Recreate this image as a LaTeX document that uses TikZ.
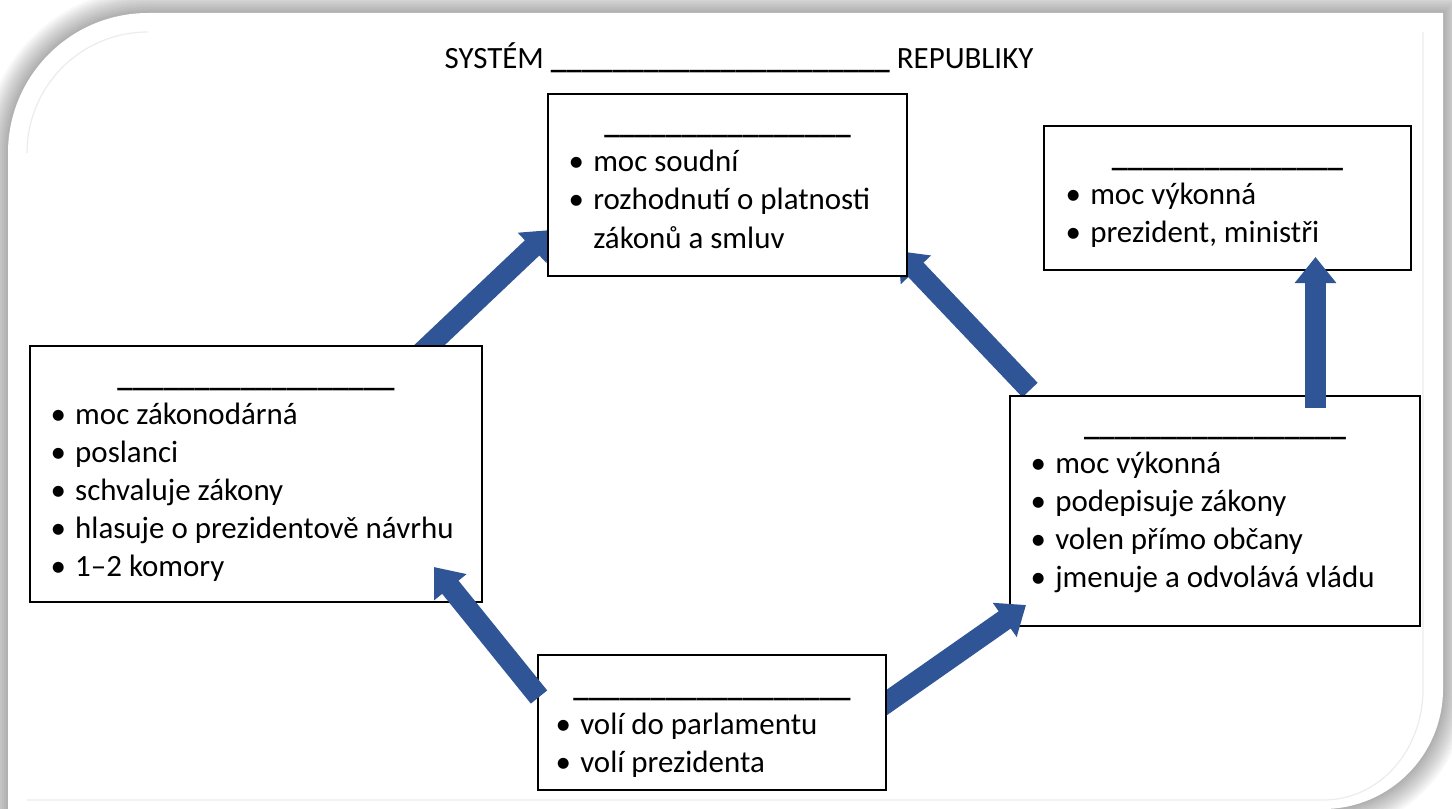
\documentclass[tikz,border=0pt]{standalone}
\usepackage{fontspec}
\setmainfont{Carlito}
\usetikzlibrary{arrows.meta}
\definecolor{arrowblue}{RGB}{47,85,151}
\definecolor{faint}{RGB}{236,236,236}
\newlength\px
\setlength\px{0.75pt}
\newcommand\bul{\llap{\makebox[34\px][c]{•}}}
\newcommand\blank[1]{{\bfseries\foreach \k in {1,...,#1}{\_}}}
\begin{document}
\begin{tikzpicture}[x=0.75pt,y=-0.75pt,
  box/.style={draw=black,line width=1.1pt,fill=white,inner sep=0pt,outer sep=0pt},
  txt/.style={anchor=base west,inner sep=0pt,font=\fontsize{23.2pt}{28.5pt}\selectfont},
  hdr/.style={anchor=base,inner sep=0pt,font=\fontsize{23.2pt}{28.5pt}\selectfont},
  bigarrow/.style={draw=arrowblue,line width=15.75pt,line cap=butt,
    -{Triangle[length=19.5pt,width=30pt]}},
  glow/.style={draw=black,draw opacity=0.028}]
\useasboundingbox (0,0) rectangle (1452,809);
\clip (0,0) rectangle (1452,809);
% frame with soft shadow
\def\framepath{(8,809) -- (8,400) [rounded corners=105pt] -- (8,13) -- (600,13) [sharp corners] -- (1443,13) -- (1443,400) [rounded corners=90pt] -- (1443,809) -- (800,809) [sharp corners] -- cycle}
\fill[white] (0,0) rectangle (1452,809);
\foreach \w in {4,8,...,48} {
  \draw[glow,line width=\w*0.75pt] \framepath;
}
\fill[white] \framepath;
\draw[faint,line width=0.9pt] (27,153) .. controls (27,86) and (81,32) .. (148,32);
\draw[faint,line width=0.9pt] (1423,32) -- (1423,689) .. controls (1423,750) and (1380,800) .. (1323,800) -- (27,800);
% title
\node[hdr] (title) at (739,69) {SYSTÉM \blank{22} REPUBLIKY};
% arrow end points
\coordinate (a1s) at (418,356);
\coordinate (a1e) at (551,230);
\coordinate (a2s) at (1030,390);
\coordinate (a2e) at (898,251);
\coordinate (a3s) at (1315.5,408);
\coordinate (a3e) at (1315.5,257);
\coordinate (a4s) at (539,697);
\coordinate (a4e) at (434,567);
\coordinate (a5s) at (876,710);
\coordinate (a5e) at (1026,605);
% arrows under the boxes
\draw[bigarrow] (a1s) -- (a1e);
\draw[bigarrow] (a2s) -- (a2e);
% top box
\node[box,minimum width=359*0.75pt,minimum height=182*0.75pt] (soud) at (727.5,185) {};
\node[hdr] (soudh) at (727.5,134) {\blank{16}};
\node[txt] (soud1) at (593,172) {\bul moc soudní};
\node[txt] (soud2) at (593,210) {\bul rozhodnutí o platnosti};
\node[txt] (soud3) at (593,248) {zákonů a smluv};
% top right box
\node[box,minimum width=367*0.75pt,minimum height=144*0.75pt] (vlada) at (1227.5,198) {};
\node[hdr] (vladah) at (1227.5,167) {\blank{15}};
\node[txt] (vlada1) at (1090,205) {\bul moc výkonná};
\node[txt] (vlada2) at (1090,243) {\bul prezident, ministři};
% left box
\node[box,minimum width=452*0.75pt,minimum height=256*0.75pt] (parl) at (256,474) {};
\node[hdr] (parlh) at (256,386) {\blank{18}};
\node[txt] (parl1) at (75,424) {\bul moc zákonodárná};
\node[txt] (parl2) at (75,462) {\bul poslanci};
\node[txt] (parl3) at (75,500) {\bul schvaluje zákony};
\node[txt] (parl4) at (75,538) {\bul hlasuje o prezidentově návrhu};
\node[txt] (parl5) at (75,576) {\bul 1–2 komory};
% right box
\node[box,minimum width=410*0.75pt,minimum height=230*0.75pt] (prez) at (1215,511) {};
\node[hdr] (prezh) at (1215,435) {\blank{17}};
\node[txt] (prez1) at (1055,473) {\bul moc výkonná};
\node[txt] (prez2) at (1055,511) {\bul podepisuje zákony};
\node[txt] (prez3) at (1055,549) {\bul volen přímo občany};
\node[txt] (prez4) at (1055,587) {\bul jmenuje a odvolává vládu};
% arrow from citizens to president
\draw[bigarrow] (a5s) -- (a5e);
% bottom box
\node[box,minimum width=348*0.75pt,minimum height=135*0.75pt] (obcan) at (712,722.5) {};
\node[hdr] (obcanh) at (712,696) {\blank{18}};
\node[txt] (obcan1) at (580,734) {\bul volí do parlamentu};
\node[txt] (obcan2) at (580,772) {\bul volí prezidenta};
% arrows over the boxes
\draw[bigarrow] (a3s) -- (a3e);
\draw[bigarrow] (a4s) -- (a4e);
\end{tikzpicture}
\end{document}
